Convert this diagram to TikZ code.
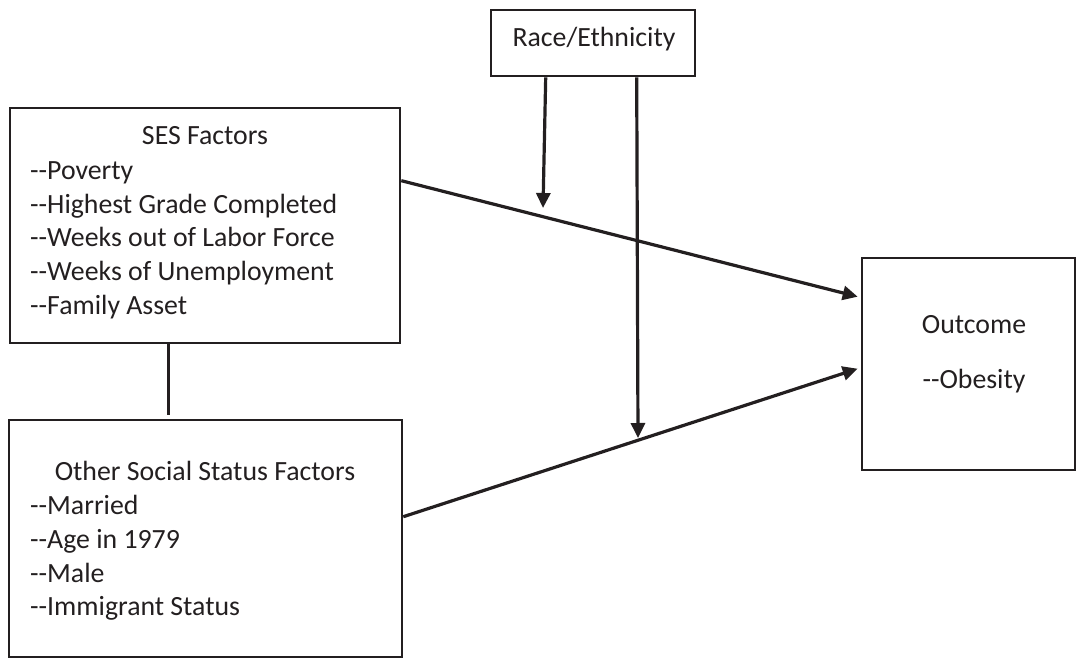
\documentclass[tikz,border=0pt]{standalone}
\usepackage{fontspec}
\setmainfont[Ligatures=TeXOff]{Carlito}
\usetikzlibrary{arrows.meta,calc}
\definecolor{ink}{HTML}{231F20}
\begin{document}
\begin{tikzpicture}[x=1pt,y=-1pt,
  box/.style={draw=ink,line width=2.6pt,inner sep=0pt},
  txt/.style={font=\fontsize{27.8}{32}\selectfont,text=ink,inner sep=0pt,anchor=base west},
  ttl/.style={font=\fontsize{27.8}{32}\selectfont,text=ink,inner sep=0pt,anchor=base},
  arr/.style={draw=ink,line width=3.2pt,-{Triangle[length=15pt,width=14pt]}},
  lnk/.style={draw=ink,line width=3.2pt}]
\useasboundingbox (0,0) rectangle (1077,658);
% boxes
\node[box,minimum width=204,minimum height=66] (race) at (593,43) {};
\node[box,minimum width=390,minimum height=235] (ses) at (205,225.5) {};
\node[box,minimum width=393,minimum height=237] (oth) at (205.5,538.5) {};
\node[box,minimum width=213,minimum height=212] (out) at (968.5,364) {};
% texts
\node[ttl] (tr) at (594,47) {Race/Ethnicity};
\node[ttl] (ts) at (205,145) {SES Factors};
\node[txt] (s1) at (30,180) {--Poverty};
\node[txt] (s2) at (30,213.5) {--Highest Grade Completed};
\node[txt] (s3) at (30,247) {--Weeks out of Labor Force};
\node[txt] (s4) at (30,280.5) {--Weeks of Unemployment};
\node[txt] (s5) at (30,314) {--Family Asset};
\node[ttl] (to) at (205,480) {Other Social Status Factors};
\node[txt] (o1) at (30,514) {--Married};
\node[txt] (o2) at (30,548) {--Age in 1979};
\node[txt] (o3) at (30,582) {--Male};
\node[txt] (o4) at (30,615.5) {--Immigrant Status};
\node[ttl] (tc) at (974,333) {Outcome};
\node[ttl] (tb) at (974,388) {--Obesity};
% connector endpoints
\coordinate (m1) at (543,208);
\coordinate (m2) at (638,438);
\coordinate (sa) at ($(ses.north east)+(0,74)$);
\coordinate (oa) at ($(oth.north east)+(0,98)$);
\coordinate (e1) at ($(out.north west)+(-3,40)$);
\coordinate (e2) at ($(out.north west)+(-3,112)$);
\coordinate (rl) at ($(race.south west)+(56,0)$);
\coordinate (rr) at ($(race.south west)+(147,0)$);
\coordinate (lt) at ($(ses.south west)+(160,0)$);
\coordinate (lb) at ($(oth.north west)+(161,-4)$);
% connectors
\draw[lnk] (lt) -- (lb);
\draw[arr] (rl) -- (m1);
\draw[arr] (rr) -- (m2);
\draw[arr] (sa) -- (e1);
\draw[arr] (oa) -- (e2);
\end{tikzpicture}
\end{document}
